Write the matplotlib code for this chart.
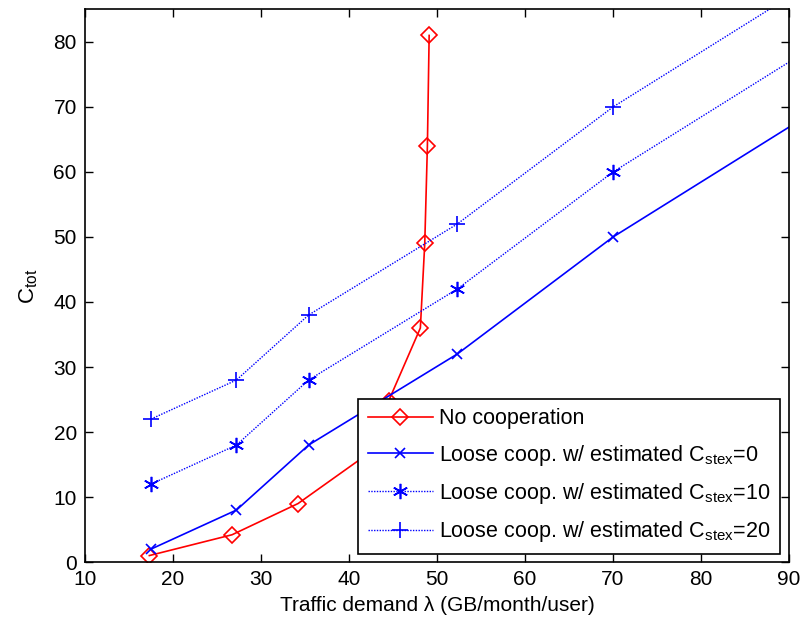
import matplotlib
matplotlib.use("Agg")
import matplotlib.pyplot as plt

plt.rcParams['font.family'] = ['Liberation Sans', 'DejaVu Sans']

# Data
x_nocoop = [17.3, 26.7, 34.2, 42.5, 44.5, 48.1, 48.6, 48.9, 49.1]
y_nocoop = [1, 4.2, 9, 17, 24.8, 36, 49, 64, 81]

x_loose = [17.5, 27.2, 35.4, 52.3, 70, 105.5]
y_c0 = [2, 8, 18, 32, 50, 80]
y_c10 = [12, 18, 28, 42, 60, 90]
y_c20 = [22, 28, 38, 52, 70, 100]

labels = ['No cooperation',
          r'Loose coop. w/ estimated C$_{\mathregular{stex}}$=0',
          r'Loose coop. w/ estimated C$_{\mathregular{stex}}$=10',
          r'Loose coop. w/ estimated C$_{\mathregular{stex}}$=20']
xlabel = 'Traffic demand λ (GB/month/user)'
ylabel = r'C$_{\mathregular{tot}}$'
xticks = [10, 20, 30, 40, 50, 60, 70, 80, 90]
yticks = [0, 10, 20, 30, 40, 50, 60, 70, 80]

fig = plt.figure(figsize=(8.03, 6.28), dpi=100)
ax = fig.add_axes([0.106, 0.105, 0.8766, 0.880])

ax.plot(x_nocoop, y_nocoop, color='red', lw=1.2, marker='D', markersize=8,
        markerfacecolor='none', markeredgecolor='red', markeredgewidth=1.2,
        label=labels[0])
ax.plot(x_loose, y_c0, color='blue', lw=1.2, marker='x', markersize=7,
        markeredgewidth=1.2, label=labels[1])
ax.plot(x_loose, y_c10, color='blue', lw=1.0, ls=(0, (1, 1)), marker=(6, 2, 0),
        markersize=11, markeredgewidth=1.2, label=labels[2])
ax.plot(x_loose, y_c20, color='blue', lw=1.0, ls=(0, (1, 1)), marker='+',
        markersize=12, markeredgewidth=1.2, label=labels[3])

ax.set_xlim(10, 90)
ax.set_ylim(0, 85)
ax.set_xticks(xticks)
ax.set_yticks(yticks)
ax.tick_params(direction='in', length=6, width=1, top=True, right=True,
               labelsize=15, pad=6)
for s in ax.spines.values():
    s.set_linewidth(1.2)

ax.set_xlabel(xlabel, fontsize=15, labelpad=5)
ax.set_ylabel(ylabel, fontsize=16, labelpad=10)

leg = ax.legend(loc='lower right', bbox_to_anchor=(0.9875, 0.0145), fontsize=15.5,
                frameon=True, fancybox=False, edgecolor='black',
                framealpha=1, handlelength=3.0, borderpad=0.45,
                labelspacing=0.62, handletextpad=0.3, borderaxespad=0)
leg.get_frame().set_linewidth(1.2)

fig.savefig('out.png', dpi=100)
